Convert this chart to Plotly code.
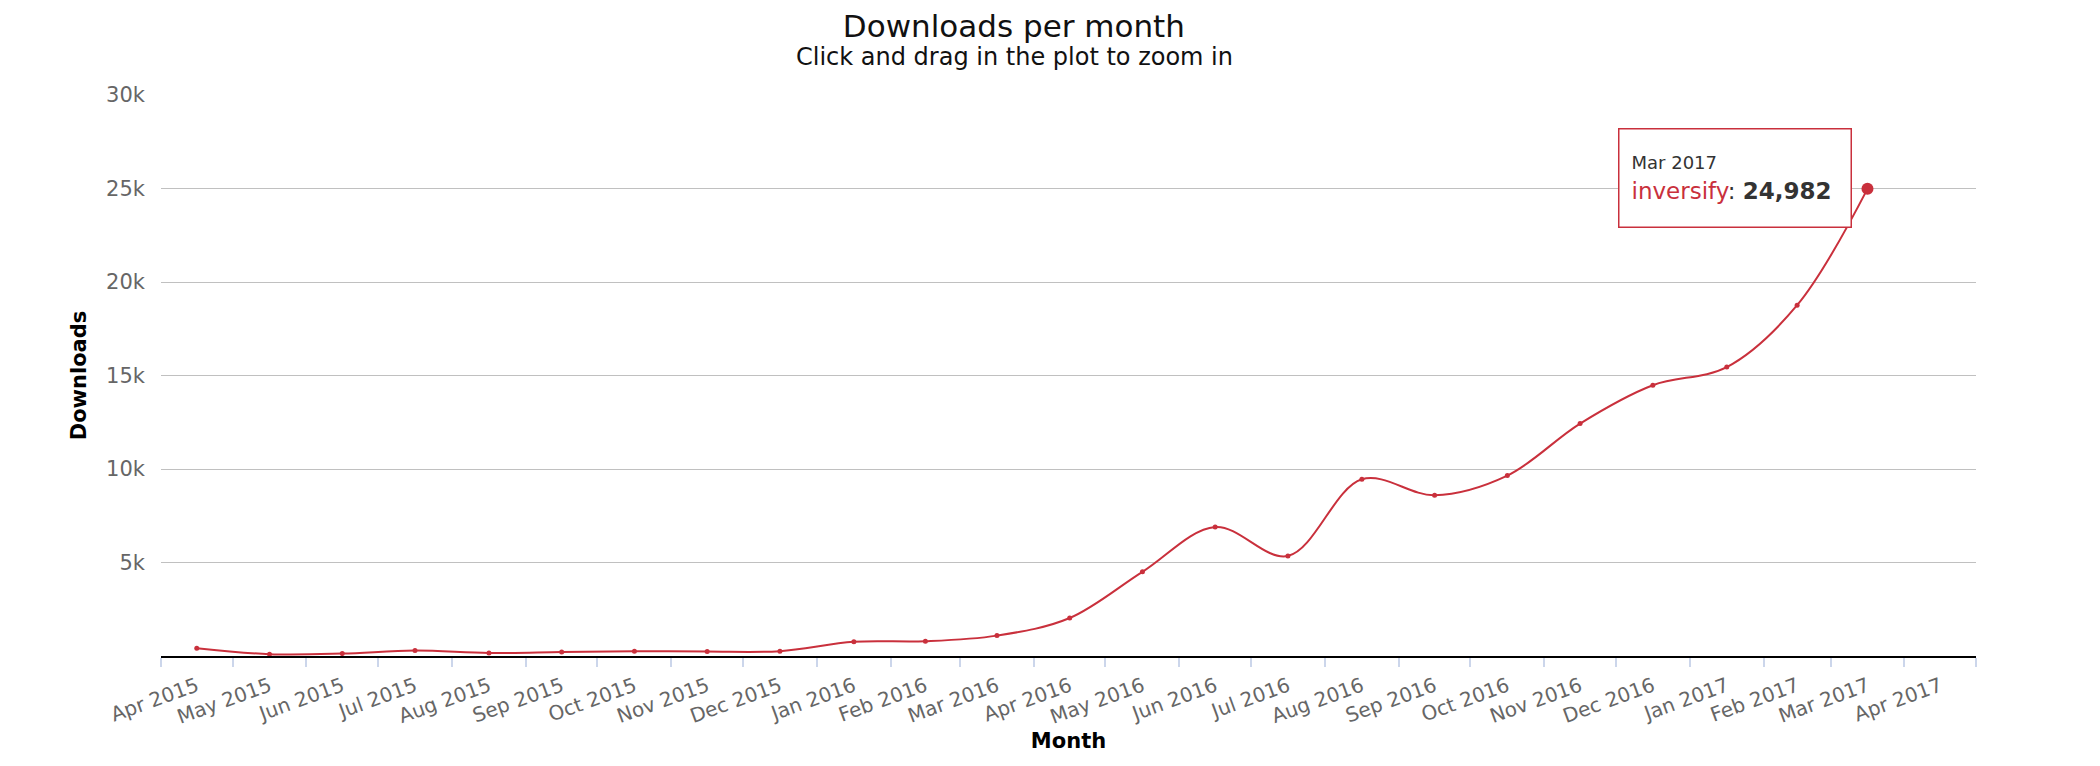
import plotly.graph_objects as go

# monthly downloads for the package
months = ['2015-04', '2015-05', '2015-06', '2015-07', '2015-08', '2015-09',
          '2015-10', '2015-11', '2015-12', '2016-01', '2016-02', '2016-03',
          '2016-04', '2016-05', '2016-06', '2016-07', '2016-08', '2016-09',
          '2016-10', '2016-11', '2016-12', '2017-01', '2017-02', '2017-03']
downloads = [420, 100, 130, 290, 160, 210,
             260, 240, 260, 760, 790, 1090,
             2030, 4500, 6900, 5350, 9450, 8600,
             9650, 12430, 14480, 15450, 18760, 24982]

y_ticks = [5000, 10000, 15000, 20000, 25000, 30000]
y_tick_text = ['5k', '10k', '15k', '20k', '25k', '30k']

package = 'inversify'
red = '#c9303c'
font = 'DejaVu Sans'

fig = go.Figure()
fig.add_trace(go.Scatter(x=months, y=downloads,
                         xperiod='M1', xperiodalignment='middle',
                         mode='lines+markers',
                         name=package,
                         line=dict(color=red, width=2, shape='spline'),
                         marker=dict(color=red, size=5)))

# hovered point (last month) drawn bigger, like the tooltip state
fig.add_trace(go.Scatter(x=months[-1:], y=downloads[-1:],
                         xperiod='M1', xperiodalignment='middle',
                         mode='markers',
                         marker=dict(color=red, size=12),
                         showlegend=False))

last_label = 'Mar 2017'
fig.add_annotation(x=months[-1], y=downloads[-1], xref='x', yref='y',
                   xshift=21, yshift=11, xanchor='right', yanchor='middle',
                   showarrow=False, align='left', valign='middle',
                   width=207, height=73,
                   text=('<span style="font-size:18px">' + last_label + '</span><br>'
                         '<span style="color:' + red + '">' + package + '</span>: '
                         '<b>' + f'{downloads[-1]:,}' + '</b>'),
                   font=dict(family=font, size=23, color='#333333'),
                   bgcolor='white', bordercolor=red, borderwidth=1.5, borderpad=12)

# subtitle sits right under the title
fig.add_annotation(x=0.470, y=1.067, xref='paper', yref='paper',
                   xanchor='center', yanchor='middle', showarrow=False,
                   text='Click and drag in the plot to zoom in',
                   font=dict(family=font, size=24, color='#111111'))

fig.update_layout(
    width=2100, height=766,
    margin=dict(l=153, r=132, t=87, b=118),
    paper_bgcolor='white', plot_bgcolor='white',
    showlegend=False,
    font=dict(family=font),
    title=dict(text='Downloads per month',
               x=0.479, xanchor='center', y=0.99, yanchor='top',
               font=dict(family=font, size=31, color='#111111')),
    xaxis=dict(type='date',
               range=['2015-04-01', '2017-05-01'],
               dtick='M1', tick0='2015-04-01',
               ticklabelmode='period', tickformat='%b %Y',
               tickangle=-20,
               tickfont=dict(family=font, size=20, color='#666666'),
               ticks='outside', ticklen=9, tickwidth=2, tickcolor='#ccd6eb',
               showline=True, linecolor='black', linewidth=2,
               showgrid=False, zeroline=False,
               title=dict(text='<b>Month</b>', standoff=1,
                          font=dict(family=font, size=21, color='black'))),
    yaxis=dict(range=[0, 30000],
               tickvals=y_ticks, ticktext=y_tick_text,
               tickfont=dict(family=font, size=21, color='#666666'),
               ticklabelstandoff=15,
               showgrid=True, gridcolor='#c0c0c0', gridwidth=1,
               zeroline=False, showline=False,
               title=dict(text='<b>Downloads</b>', standoff=13,
                          font=dict(family=font, size=21, color='black'))),
)

fig.write_html('out.html')
